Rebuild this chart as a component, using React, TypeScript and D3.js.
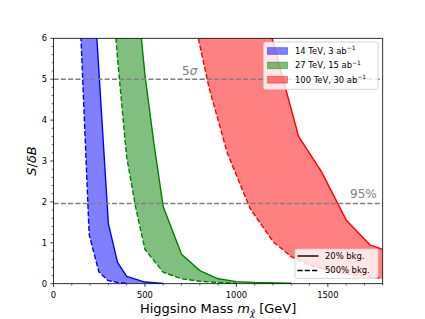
import React from "react";
import * as d3 from "d3";

// ---- data (mass in GeV, S/δB) ----
const blueDashed: [number, number][] = [[100, 11.4], [195, 1.2], [248, 0.29], [297, 0.08], [350, 0.03], [400, 0.01]];
const blueSolid: [number, number][] = [[200, 8.66], [300, 1.47], [350, 0.52], [400, 0.18], [500, 0.04], [600, 0.005]];
const greenDashed: [number, number][] = [[300, 8.5], [350, 5.5], [400, 3.1], [450, 1.85], [500, 0.84], [600, 0.28], [700, 0.12], [800, 0.06], [900, 0.03], [1000, 0.01]];
const greenSolid: [number, number][] = [[450, 7.4], [500, 5.1], [550, 3.4], [600, 1.88], [700, 0.72], [800, 0.32], [900, 0.12], [1000, 0.05], [1100, 0.03], [1300, 0.01]];
const redDashed: [number, number][] = [[750, 6.87], [850, 4.8], [950, 3.2], [1075, 1.84], [1200, 1.03], [1300, 0.66], [1400, 0.46], [1500, 0.33], [1600, 0.24], [1700, 0.18], [1800, 0.13]];
const redSolid: [number, number][] = [[1100, 7.58], [1340, 3.6], [1465, 2.74], [1600, 1.56], [1730, 0.95], [1800, 0.84]];

const xTicks = [0, 500, 1000, 1500];
const yTicks = [0, 1, 2, 3, 4, 5, 6];
const fiveSigma = 5;
const ninetyFive = 1.96;

const series = [
  { label: "14 TeV, 3 ab", dashed: blueDashed, solid: blueSolid, line: "#0000ff", fill: "#8080ff" },
  { label: "27 TeV, 15 ab", dashed: greenDashed, solid: greenSolid, line: "#008000", fill: "#80bf80" },
  { label: "100 TeV, 30 ab", dashed: redDashed, solid: redSolid, line: "#ff0000", fill: "#ff8080" },
];

const W = 425, H = 319;
const L = 53.5, R = 382.7, T = 38.3, B = 283.7;
const font = "DejaVu Sans, sans-serif";

export default function App() {
  const x = d3.scaleLinear().domain([0, 1800]).range([L, R]);
  const y = d3.scaleLinear().domain([0, 6]).range([B, T]);
  const line = d3.line<[number, number]>().x(d => x(d[0])).y(d => y(d[1]));
  const xMinor = d3.range(0, 1801, 100).filter(v => v % 500 !== 0);
  const yMinor = d3.range(0, 6.001, 0.2).map(v => +v.toFixed(1)).filter(v => Math.abs(v - Math.round(v)) > 1e-6);
  const dash = "5.1,2.2";

  return (
    <svg width={W} height={H} style={{ position: "fixed", left: 0, top: 0, background: "#fff" }} fontFamily={font}>
      <defs>
        <clipPath id="plot"><rect x={L} y={T} width={R - L} height={B - T} /></clipPath>
      </defs>
      <rect x={0} y={0} width={W} height={H} fill="#fff" />
      <g clipPath="url(#plot)">
        {series.map((s, i) => (
          <path key={"f" + i} d={line([...s.dashed, ...[...s.solid].reverse()])! + "Z"} fill={s.fill} stroke="none" />
        ))}
        {series.map((s, i) => (
          <g key={"l" + i}>
            <path d={line(s.solid)!} fill="none" stroke={s.line} strokeWidth={1.4} strokeLinejoin="round" />
            <path d={line(s.dashed)!} fill="none" stroke={s.line} strokeWidth={1.4} strokeDasharray={dash} />
          </g>
        ))}
        <line x1={L} x2={R} y1={y(fiveSigma)} y2={y(fiveSigma)} stroke="#808080" strokeWidth={1.4} strokeDasharray={dash} />
        <line x1={L} x2={R} y1={y(ninetyFive)} y2={y(ninetyFive)} stroke="#808080" strokeWidth={1.4} strokeDasharray={dash} />
      </g>
      <text x={182} y={75} fontSize={12} fill="#808080">5<tspan fontStyle="italic">σ</tspan></text>
      <text x={350} y={198} fontSize={12} fill="#808080">95%</text>

      {/* spines */}
      <rect x={L} y={T} width={R - L} height={B - T} fill="none" stroke="#000" strokeWidth={0.8} />
      {/* x ticks */}
      {xTicks.map(v => (
        <g key={"xt" + v}>
          <line x1={x(v)} x2={x(v)} y1={B} y2={B + 3.2} stroke="#000" strokeWidth={0.75} />
          <text x={x(v)} y={298} fontSize={8.4} textAnchor="middle">{v}</text>
        </g>
      ))}
      {xMinor.map(v => <line key={"xm" + v} x1={x(v)} x2={x(v)} y1={B} y2={B + 1.8} stroke="#000" strokeWidth={0.6} />)}
      {yTicks.map(v => (
        <g key={"yt" + v}>
          <line x1={L} x2={L - 3.2} y1={y(v)} y2={y(v)} stroke="#000" strokeWidth={0.75} />
          <text x={47} y={y(v)} dy="0.35em" fontSize={8.4} textAnchor="end">{v}</text>
        </g>
      ))}
      {yMinor.map(v => <line key={"ym" + v} x1={L} x2={L - 1.8} y1={y(v)} y2={y(v)} stroke="#000" strokeWidth={0.6} />)}

      {/* axis labels */}
      <text x={(L + R) / 2} y={313} fontSize={13} textAnchor="middle">
        Higgsino Mass <tspan fontStyle="italic">m</tspan><tspan fontSize={8.5} dy={3} fontStyle="italic">χ̃</tspan><tspan dy={-3}> [GeV]</tspan>
      </text>
      <text transform={`translate(35.5,${(T + B) / 2}) rotate(-90)`} fontSize={13} textAnchor="middle">
        <tspan fontStyle="italic">S</tspan>/<tspan fontStyle="italic">δB</tspan>
      </text>

      {/* legend 1 */}
      <g>
        <rect x={263.5} y={42} width={114.5} height={47.3} rx={2} fill="#fff" fillOpacity={0.8} stroke="#ccc" strokeWidth={0.8} />
        {series.map((s, i) => {
          const cy = 51 + i * 14.4;
          return (
            <g key={"lg" + i}>
              <rect x={267.5} y={cy - 3.3} width={20} height={6.6} fill={s.line} fillOpacity={0.5} stroke={s.line} strokeOpacity={0.5} strokeWidth={0.8} />
              <text x={295} y={cy} dy="0.35em" fontSize={8.4}>
                {s.label}<tspan fontSize={6} dy={-3.6}>−1</tspan>
              </text>
            </g>
          );
        })}
      </g>
      {/* legend 2 */}
      <g>
        <rect x={295} y={249} width={83} height={29.3} rx={2} fill="#fff" fillOpacity={0.8} stroke="#ccc" strokeWidth={0.8} />
        <line x1={297.5} x2={318.5} y1={256} y2={256} stroke="#000" strokeWidth={1.4} />
        <text x={325} y={256} dy="0.35em" fontSize={8.4}>20% bkg.</text>
        <line x1={297.5} x2={318.5} y1={270.5} y2={270.5} stroke="#000" strokeWidth={1.4} strokeDasharray={dash} />
        <text x={325} y={270.5} dy="0.35em" fontSize={8.4}>500% bkg.</text>
      </g>
    </svg>
  );
}
